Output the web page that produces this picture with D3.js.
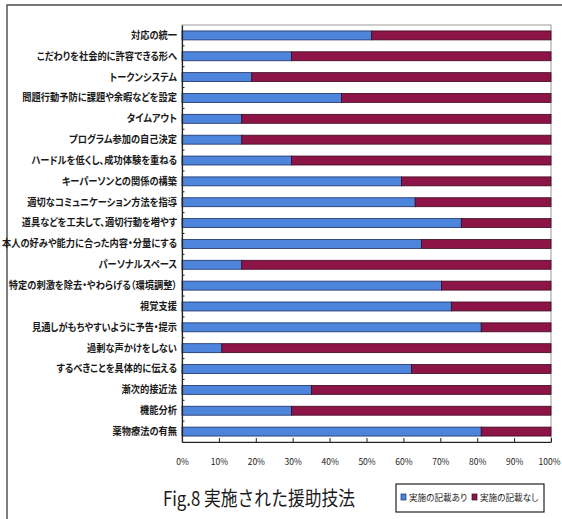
<!DOCTYPE html>
<html>
<head>
<meta charset="utf-8">
<script src="https://cdn.jsdelivr.net/npm/d3@7"></script>
<style>
  html, body { margin: 0; padding: 0; background: #fff; }
  svg { display: block; }
  text { font-family: "Noto Sans CJK JP", "Noto Sans", sans-serif; fill: #1a1a1a; }
</style>
</head>
<body>
<svg id="chart" width="562" height="519"></svg>
<script>
// Support techniques, share of records that mention the technique (%)
const techniques = [
  "対応の統一",
  "こだわりを社会的に許容できる形へ",
  "トークンシステム",
  "問題行動予防に課題や余暇などを設定",
  "タイムアウト",
  "プログラム参加の自己決定",
  "ハードルを低くし、成功体験を重ねる",
  "キーパーソンとの関係の構築",
  "適切なコミュニケーション方法を指導",
  "道具などを工夫して、適切行動を増やす",
  "本人の好みや能力に合った内容・分量にする",
  "パーソナルスペース",
  "特定の刺激を除去・やわらげる（環境調整）",
  "視覚支援",
  "見通しがもちやすいように予告・提示",
  "過剰な声かけをしない",
  "するべきことを具体的に伝える",
  "漸次的接近法",
  "機能分析",
  "薬物療法の有無"
];
const recorded    = [51.4, 29.7, 18.9, 43.2, 16.2, 16.2, 29.7, 59.5, 63.2, 75.7, 64.9, 16.2, 70.3, 73.0, 81.1, 10.8, 62.2, 35.1, 29.7, 81.1];
const notRecorded = [48.6, 70.3, 81.1, 56.8, 83.8, 83.8, 70.3, 40.5, 36.8, 24.3, 35.1, 83.8, 29.7, 27.0, 18.9, 89.2, 37.8, 64.9, 70.3, 18.9];
const seriesNames = ["実施の記載あり", "実施の記載なし"];
const seriesColors = ["#4d84dc", "#8c1446"];
const seriesStrokes = ["#1c2f66", "#3d0a20"];
const xTicks = [0, 10, 20, 30, 40, 50, 60, 70, 80, 90, 100];
const title = "Fig.8 実施された援助技法";

const svg = d3.select("#chart");
const plot = { left: 182, right: 551, top: 25, bottom: 442 };

// outer frame
svg.append("path")
  .attr("d", `M7,519 L7,5 L562,5`)
  .attr("fill", "none").attr("stroke", "#4a4a4a").attr("stroke-width", 1.4);

const x = d3.scaleLinear().domain([0, 100]).range([plot.left, plot.right]);
const y = d3.scaleBand().domain(techniques).range([plot.top, plot.bottom]).paddingInner(0.57).paddingOuter(0.285);
const yBand = d3.scaleBand().domain(techniques).range([plot.top, plot.bottom]);

// plot area border
svg.append("rect")
  .attr("x", plot.left).attr("y", plot.top)
  .attr("width", plot.right - plot.left).attr("height", plot.bottom - plot.top)
  .attr("fill", "#fff").attr("stroke", "#9a9a9a").attr("stroke-width", 1);

// stacked bars
const stackRows = techniques.map((t, i) => ({ t, a: recorded[i], b: notRecorded[i] }));
const stacked = d3.stack().keys(["a", "b"])(stackRows);
stacked.forEach((layer, li) => {
  svg.append("g").selectAll("rect").data(layer).join("rect")
    .attr("x", d => x(d[0]))
    .attr("y", d => y(d.data.t))
    .attr("width", d => x(d[1]) - x(d[0]))
    .attr("height", y.bandwidth())
    .attr("fill", seriesColors[li])
    .attr("stroke", seriesStrokes[li])
    .attr("stroke-width", 0.8);
});

// category axis
const yAxis = d3.axisLeft(yBand).tickSize(0).tickPadding(5);
const gy = svg.append("g").attr("transform", `translate(${plot.left},0)`).call(yAxis);
gy.select(".domain").attr("stroke", "#222").attr("stroke-width", 1.2);
gy.selectAll(".tick text")
  .attr("font-size", 10.5)
  .attr("font-weight", 600)
  .style("font-feature-settings", '"palt"')
  .attr("font-family", '"Noto Sans CJK JP", sans-serif')
  .each(function () {
    const w = this.getComputedTextLength();
    d3.select(this).attr("textLength", Math.min(w * 0.88, 175)).attr("lengthAdjust", "spacingAndGlyphs");
  });
// small marks between categories
svg.append("g").selectAll("line").data(techniques.slice(1)).join("line")
  .attr("x1", plot.left).attr("x2", plot.left + 2.5)
  .attr("y1", d => yBand(d)).attr("y2", d => yBand(d))
  .attr("stroke", "#222").attr("stroke-width", 1);

// value axis (ticks pointing into the plot)
const xAxis = d3.axisBottom(x).tickValues(xTicks).tickFormat(d => d + "%").tickSizeInner(-4).tickSizeOuter(0).tickPadding(17);
const gx = svg.append("g").attr("transform", `translate(0,${plot.bottom})`).call(xAxis);
gx.select(".domain").attr("stroke", "#222").attr("stroke-width", 1.2);
gx.selectAll(".tick line").attr("stroke", "#222");
gx.selectAll(".tick text")
  .attr("font-size", 8.5)
  .attr("font-family", '"Liberation Sans Narrow", "Liberation Sans", sans-serif');
gx.selectAll(".tick text").filter(d => d === 100).attr("text-anchor", "end").attr("dx", 9);

// title
svg.append("text")
  .attr("x", 163).attr("y", 506)
  .attr("font-size", 20)
  .attr("textLength", 192).attr("lengthAdjust", "spacingAndGlyphs")
  .text(title);

// legend
const lg = svg.append("g");
lg.append("rect").attr("x", 396).attr("y", 484).attr("width", 148).attr("height", 28)
  .attr("fill", "#fff").attr("stroke", "#222").attr("stroke-width", 1.2);
const legendX = [401, 472];
seriesNames.forEach((name, i) => {
  lg.append("rect").attr("x", legendX[i]).attr("y", 494).attr("width", 5).attr("height", 6)
    .attr("fill", seriesColors[i]).attr("stroke", seriesStrokes[i]).attr("stroke-width", 0.7);
  lg.append("text").attr("x", legendX[i] + 8).attr("y", 501)
    .attr("font-size", 8.6)
    .style("font-feature-settings", '"palt"')
    .text(name);
});
</script>
</body>
</html>
